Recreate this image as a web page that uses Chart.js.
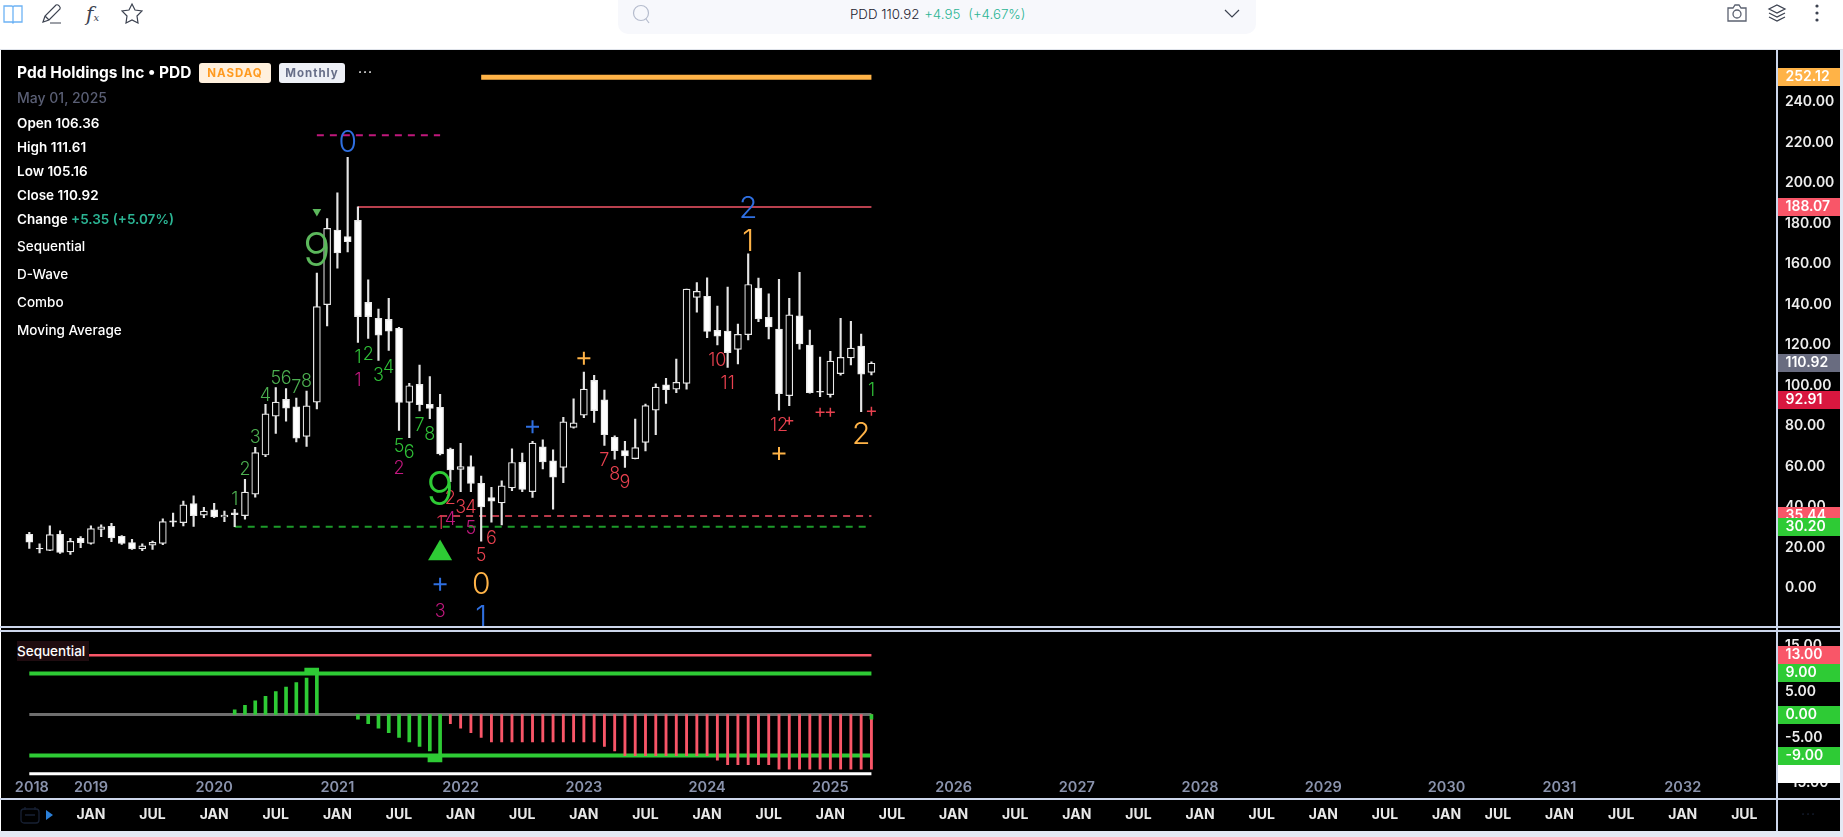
<!DOCTYPE html>
<html>
<head>
<meta charset="utf-8">
<title>PDD</title>
<script src="https://cdn.jsdelivr.net/npm/chart.js@4"></script>
<style>
html, body { margin: 0; padding: 0; background: #fff; overflow: hidden; width: 1843px; height: 837px; }
body { font-family: Inter, sans-serif; position: relative; }
.abs { position: absolute; white-space: nowrap; }
#frame { position: absolute; left: 1px; top: 50px; width: 1839px; height: 781px; background: #000; }
#rightEdge { position: absolute; left: 1840px; top: 50px; width: 3px; height: 787px; background: #e4e9f4; }
#bottomEdge { position: absolute; left: 0; top: 831px; width: 1843px; height: 6px; background: #e4e9f4; }
#topEdge { position: absolute; left: 0; top: 49px; width: 1843px; height: 1px; background: #dfe3ea; }
canvas { position: absolute; left: 1px; }
#priceChart { top: 50px; }
#seqChart { top: 631px; }
.rule { position: absolute; background: #ccd6eb; }
.info { left: 17px; color: #fff; font-size: 13.5px; font-weight: 600; line-height: 18px; }
.tool { position: absolute; font-size: 13.5px; font-weight: 500; color: #fff; left: 17px; line-height: 18px; }
.badge { top: 63px; height: 20px; line-height: 20px; border-radius: 3px; font-size: 11.5px; font-weight: 700; letter-spacing: 1px; text-align: center; }
</style>
</head>
<body>
<div id="frame"></div>
<div id="topEdge"></div>
<div id="rightEdge"></div>
<div id="bottomEdge"></div>
<canvas id="priceChart" width="1839" height="576"></canvas>
<canvas id="seqChart" width="1839" height="200"></canvas>
<div class="rule" style="left:0;top:626px;width:1840px;height:1.5px"></div>
<div class="rule" style="left:0;top:630px;width:1840px;height:1.5px"></div>
<div class="rule" style="left:0;top:798px;width:1840px;height:1.5px"></div>
<div class="rule" style="left:1776px;top:50px;width:1.5px;height:781px"></div>

<!-- top toolbar -->
<svg class="abs" style="left:2px;top:3px" width="22" height="22" viewBox="0 0 22 22" fill="none" stroke="#6db3f5" stroke-width="1.3"><path d="M2 3h8l1 1 1-1h8v16h-8l-1 1-1-1H2zM11 4v15"/></svg>
<svg class="abs" style="left:41px;top:3px" width="23" height="21" viewBox="0 0 23 21" fill="none" stroke="#3c4250" stroke-width="1.2"><path d="M2 19l2-6L15 2c2-1 5 2 4 4L8 17zM4 13l4 4M9 20h11"/></svg>
<div class="abs" style="left:86px;top:2px;font:italic 300 20px 'DejaVu Serif',serif;color:#3c4250">f<span style="font-size:10px">x</span></div>
<svg class="abs" style="left:121px;top:2px" width="22" height="22" viewBox="0 0 22 22" fill="none" stroke="#3c4250" stroke-width="1.2"><path d="M11 2l3 6 7 1-5 5 1 7-6-3-6 3 1-7-5-5 7-1z"/></svg>
<div class="abs" style="left:618px;top:0;width:638px;height:34px;background:#f7f8fc;border-radius:0 0 10px 10px"></div>
<svg class="abs" style="left:632px;top:3px" width="20" height="22" viewBox="0 0 20 22" fill="none" stroke="#b5bccd" stroke-width="1.2"><circle cx="9" cy="10" r="7.5"/><path d="M14 16l3 4"/></svg>
<div class="abs" style="left:850px;top:6px;font-size:13.3px;font-weight:300;line-height:16px;color:#1d2230">PDD 110.92 <span style="color:#2bb594;margin-left:1px">+4.95</span><span style="color:#2bb594;margin-left:8px">(+4.67%)</span></div>
<svg class="abs" style="left:1224px;top:9px" width="16" height="10" viewBox="0 0 16 10" fill="none" stroke="#3c4250" stroke-width="1.2"><path d="M1 1l7 7 7-7"/></svg>
<svg class="abs" style="left:1726px;top:4px" width="22" height="18" viewBox="0 0 22 18" fill="none" stroke="#5b6170" stroke-width="1.3"><path d="M2 4h5l2-3h4l2 3h5v13H2z"/><circle cx="11" cy="10" r="4"/></svg>
<svg class="abs" style="left:1767px;top:3px" width="20" height="20" viewBox="0 0 20 20" fill="none" stroke="#3c4250" stroke-width="1.2"><path d="M10 2l8 4-8 4-8-4zM2 10l8 4 8-4M2 14l8 4 8-4"/></svg>
<svg class="abs" style="left:1814px;top:3px" width="6" height="20" viewBox="0 0 6 20" fill="#3c4250"><circle cx="3" cy="3" r="1.6"/><circle cx="3" cy="10" r="1.6"/><circle cx="3" cy="17" r="1.6"/></svg>

<!-- legend text over the price panel -->
<div class="abs" style="left:17px;top:63px;color:#fff;font-size:15.5px;font-weight:700;line-height:20px">Pdd Holdings Inc • PDD</div>
<div class="abs badge" style="left:199px;width:72px;background:#fff0dd;color:#ff9a1f">NASDAQ</div>
<div class="abs badge" style="left:279px;width:66px;background:#eef0f6;color:#676e88">Monthly</div>
<div class="abs" style="left:358px;top:63px;color:#fff;font-size:14px;line-height:18px;letter-spacing:1px">···</div>
<div class="abs info" style="top:89px;color:#5a5f75;font-weight:500;font-size:14px">May 01, 2025</div>
<div class="abs info" style="top:114px">Open 106.36</div>
<div class="abs info" style="top:138px">High 111.61</div>
<div class="abs info" style="top:162px">Low 105.16</div>
<div class="abs info" style="top:186px">Close 110.92</div>
<div class="abs info" style="top:210px">Change <span style="color:#2bb594">+5.35 (+5.07%)</span></div>
<div class="tool abs" style="top:237px">Sequential</div>
<div class="tool abs" style="top:265px">D-Wave</div>
<div class="tool abs" style="top:293px">Combo</div>
<div class="tool abs" style="top:321px">Moving Average</div>
<div class="tool abs" style="top:641px;left:17px;padding:1px 4px 1px 0;background:#1f0c10;font-size:13.5px">Sequential</div>

<svg class="abs" style="left:20px;top:806px" width="20" height="18" viewBox="0 0 20 18" fill="none" stroke="#172033" stroke-width="1.3"><rect x="1" y="3" width="18" height="14" rx="3"/><path d="M5 1v3M15 1v3M5 9h10"/></svg>
<svg class="abs" style="left:46px;top:810px" width="7" height="10" viewBox="0 0 7 10" fill="#2a7fd8"><path d="M0 0l7 5-7 5z"/></svg>
<div class="abs" style="left:1801px;top:805px;color:#172033;font-size:14px;letter-spacing:1px">···</div>

<script>
// months since Jul 2018, one candle per month
var opens = [26.4, 19.5, 18.5, 26.4, 17.8, 24.5, 22.0, 28.9, 30.4, 25.5, 22.3, 19.2, 21.1, 22.0, 33.1, 32.2, 41.6, 35.9, 38.5, 35.0, 37.1, 35.7, 46.3, 65.6, 84.8, 93.1, 89.4, 74.8, 91.7, 139.9, 176.7, 173.5, 181.5, 141.0, 133.1, 132.6, 128.1, 91.6, 100.5, 90.6, 89.1, 68.5, 58.5, 59.9, 51.6, 44.6, 42.0, 49.4, 62.0, 47.5, 69.6, 62.7, 59.5, 79.2, 85.3, 102.5, 92.8, 74.3, 67.8, 63.8, 71.8, 87.8, 100.2, 98.1, 101.0, 143.4, 144.0, 127.2, 126.8, 117.8, 125.0, 148.0, 133.6, 127.8, 94.9, 134.3, 119.9, 97.1, 95.4, 105.8, 113.6, 119.4, 106.36];
var highs = [27.4, 21.7, 30.6, 28.1, 24.5, 25.3, 30.6, 31.1, 31.9, 25.8, 24.0, 21.7, 23.1, 34.1, 36.9, 42.8, 45.4, 39.7, 41.7, 37.9, 38.8, 53.6, 69.4, 90.6, 98.9, 98.4, 93.7, 97.2, 155.4, 182.4, 195.1, 212.6, 188.1, 152.1, 137.7, 143.0, 128.6, 101.0, 110.0, 104.3, 95.6, 69.0, 71.4, 65.2, 55.2, 49.6, 52.8, 68.6, 66.5, 72.3, 73.1, 68.1, 84.2, 93.3, 106.5, 105.0, 97.7, 75.1, 72.3, 83.3, 90.8, 100.7, 103.5, 113.0, 147.5, 150.8, 153.1, 139.2, 148.5, 130.3, 165.0, 153.0, 145.2, 152.3, 143.0, 155.8, 127.3, 114.0, 116.8, 133.1, 131.6, 125.3, 111.61];
var lows = [19.5, 17.3, 18.3, 17.0, 16.5, 19.8, 21.6, 25.3, 22.8, 21.5, 19.0, 18.3, 19.0, 21.3, 30.3, 30.6, 30.3, 34.7, 34.7, 32.7, 30.2, 33.9, 44.8, 64.8, 76.2, 82.3, 72.1, 69.8, 88.4, 129.3, 157.9, 165.9, 121.2, 123.2, 112.3, 117.2, 77.7, 74.2, 87.4, 83.6, 65.6, 52.4, 47.5, 47.5, 23.0, 32.4, 31.1, 48.0, 47.5, 44.6, 58.7, 38.9, 51.9, 78.9, 84.0, 81.7, 70.3, 63.5, 59.5, 63.7, 67.6, 75.6, 91.1, 96.4, 98.1, 136.1, 123.5, 120.0, 108.8, 110.6, 122.4, 131.5, 122.9, 87.8, 90.0, 117.9, 96.1, 94.4, 94.1, 105.0, 110.1, 87.0, 105.16];
var closes = [22.5, 19.2, 26.3, 17.5, 23.0, 22.3, 29.3, 30.1, 24.6, 22.0, 19.2, 20.7, 22.5, 32.7, 32.4, 41.0, 35.7, 37.9, 35.0, 35.9, 36.1, 47.3, 66.8, 85.9, 91.7, 88.7, 73.9, 89.9, 138.9, 177.5, 165.4, 170.9, 133.9, 133.9, 124.8, 126.8, 91.6, 99.8, 90.4, 88.6, 66.1, 58.2, 59.9, 51.6, 40.0, 42.8, 50.4, 61.9, 48.6, 71.5, 62.2, 54.7, 82.0, 81.5, 98.1, 87.5, 75.6, 67.8, 65.2, 69.3, 90.0, 99.1, 97.9, 101.5, 147.5, 146.4, 126.6, 124.3, 116.1, 125.2, 149.8, 132.8, 128.8, 95.9, 134.8, 120.5, 96.4, 96.6, 112.0, 113.8, 118.4, 105.57, 110.92];

var priceTicks = [0, 20, 40, 60, 80, 100, 120, 140, 160, 180, 200, 220, 240];
var seqTicks = [-15, -10, -5, 0, 5, 10, 15];

var monthTicks = [6, 12, 18, 24, 30, 36, 42, 48, 54, 60, 66, 72, 78, 84, 90, 96, 102, 108, 114, 120, 126, 132, 138, 143, 149, 155, 161, 167];
var monthLabels = ["JAN", "JUL", "JAN", "JUL", "JAN", "JUL", "JAN", "JUL", "JAN", "JUL", "JAN", "JUL", "JAN", "JUL", "JAN", "JUL", "JAN", "JUL", "JAN", "JUL", "JAN", "JUL", "JAN", "JUL", "JAN", "JUL", "JAN", "JUL"];
var yearTicks = [0.25, 6, 18, 30, 42, 54, 66, 78, 90, 102, 114, 126, 138, 149, 161];
var yearLabels = ["2018", "2019", "2020", "2021", "2022", "2023", "2024", "2025", "2026", "2027", "2028", "2029", "2030", "2031", "2032"];

// sequential study, one value per candle
var seqGreen = [null, null, null, null, null, null, null, null, null, null, null, null, null, null, null, null, null, null, null, null, 1, 2, 3, 4, 5, 6, 7, 8, 9, null, null, null, -1, -2, -3, -4, -5, -6, -7, -8, -9, null, null, null, null, null, null, null, null, null, null, null, null, null, null, null, null, null, null, null, null, null, null, null, null, null, null, null, null, null, null, null, null, null, null, null, null, null, null, null, null, null, -1];
var seqRed = [null, null, null, null, null, null, null, null, null, null, null, null, null, null, null, null, null, null, null, null, null, null, null, null, null, null, null, null, null, null, null, null, null, null, null, null, null, null, null, null, null, -2, -3, -4, -5, -6, -6, -6, -6, -6, -6, -6, -6, -6, -6, -6, -7, -8, -9, -9, -9, -9, -9, -9, -9, -9, -9, -10, -11, -11, -11, -11, -11, -12, -12, -12, -12, -12, -12, -12, -12, -12, -12];
var seqLevels = [13, 9, 0, -9, -13];
var seqLevelColors = ["#f95668", "#2ecb35", "#6e6e6e", "#2ecb35", "#ffffff"];
var seqLevelWidths = [2.5, 4, 3, 4, 3];
var seqCapX = [27.5, 39.5];
var seqCapY = [[8.8, 10.2], [-10.4, -9]];

// horizontal levels on the price panel
var levelFrom = [44, 32, 20, 40, 28];
var levelTo = [82, 82, 82, 82, 40];
var levelPrice = [252.12, 188.07, 30.2, 35.44, 223.5];
var levelColors = ["#ffb347", "#b8404e", "#1d9a2a", "#b93a4a", "#c0187c"];

// count digits on the chart
var markIdx = [20, 21, 22, 23, 24, 25, 26, 27, 32, 33, 34, 35, 36, 37, 38, 39, 32, 36, 41, 42, 43, 40, 41, 43, 45, 44, 40, 56, 57, 58, 67, 68, 73, 82, 31, 28, 40, 44, 44, 70, 70, 81];
var markPrice = [44.2, 59, 75.1, 95.7, 104.3, 104.3, 99.7, 102.6, 114.5, 115.8, 105.5, 109.7, 70.5, 67.6, 80.8, 76.6, 103.1, 59.8, 45, 40.6, 40.6, 32.7, 34.3, 29.9, 25.3, 16.6, -10.9, 63.5, 56.6, 52.8, 113.2, 101.8, 80.9, 98.2, 221.2, 167.9, 50, 2.7, -13.4, 188.6, 172.3, 76.8];
var markText = ["1", "2", "3", "4", "5", "6", "7", "8", "1", "2", "3", "4", "5", "6", "7", "8", "1", "2", "2", "3", "4", "1", "4", "5", "6", "5", "3", "7", "8", "9", "10", "11", "12", "1", "0", "9", "9", "0", "1", "2", "1", "2"];
var markColor = ["#4caf50", "#4caf50", "#4caf50", "#4caf50", "#4caf50", "#4caf50", "#4caf50", "#4caf50", "#2fbf37", "#2fbf37", "#2fbf37", "#2fbf37", "#2fbf37", "#2fbf37", "#2fbf37", "#2fbf37", "#c2187f", "#c2187f", "#e8414f", "#e8414f", "#e8414f", "#d8304f", "#c2187f", "#c2187f", "#e8414f", "#e8414f", "#c2187f", "#e8414f", "#e8414f", "#e8414f", "#e8414f", "#e8414f", "#e8414f", "#2fbf37", "#2f6fe0", "#5cb85c", "#2ecb35", "#ffb347", "#2f6fe0", "#2f6fe0", "#ffb347", "#ffb347"];
var markSize = [18, 18, 18, 18, 18, 18, 18, 18, 18, 18, 18, 18, 18, 18, 18, 18, 18, 18, 18, 18, 18, 18, 18, 18, 18, 18, 18, 18, 18, 18, 18, 18, 18, 18, 30, 46, 46, 30, 30, 30, 30, 30];

// plus signs and triangles
var plusIdx = [40, 49, 54, 73, 74, 77, 78, 82];
var plusPrice = [1.8, 79.6, 113.4, 66.4, 82.5, 86.7, 86.7, 87.2];
var plusColor = ["#2f6fe0", "#2f6fe0", "#ffb347", "#ffb347", "#e8414f", "#e8414f", "#e8414f", "#e8414f"];
var plusSize = [6.5, 6.5, 6.5, 6.5, 4, 4.5, 4.5, 4.5];

// price tags on the right axis
var priceTagValue = [252.12, 188.07, 110.92, 92.91, 35.44, 30.2];
var priceTagColor = ["#ffb347", "#f95668", "#696c80", "#d8173f", "#f95668", "#2ecb35"];
var seqTagValue = [13, 9, 0, -9, -13];
var seqTagColor = ["#f95668", "#2ecb35", "#2ecb35", "#2ecb35", "#ffffff"];

var FONT = "Inter, sans-serif";
var xMin = -2.756, xMax = 170.13;
var axisW = 63.5;

var months = closes.map(function (c, i) { return i; });

function tagPlugin(id, values, colors, fmt) {
    return {
        id: id,
        afterDraw: function (chart) {
            var ctx = chart.ctx, s = chart.scales.y;
            ctx.save();
            ctx.textBaseline = "middle";
            ctx.font = "600 14px " + FONT;
            values.forEach(function (v, i) {
                var y = Math.round(s.getPixelForValue(v));
                ctx.fillStyle = colors[i];
                ctx.fillRect(chart.chartArea.right + 1, y - 9, axisW - 1, 18);
                ctx.fillStyle = "#fff";
                ctx.fillText(fmt(v), chart.chartArea.right + 9, y);
            });
            ctx.restore();
        }
    };
}

var markPlugin = {
    id: "marks",
    afterDatasetsDraw: function (chart) {
        var ctx = chart.ctx;
        ctx.save();
        ctx.textAlign = "center";
        ctx.textBaseline = "middle";
        markIdx.forEach(function (m, i) {
            ctx.font = "300 " + markSize[i] + "px " + FONT;
            ctx.fillStyle = markColor[i];
            // digits sit a little above the em box middle
            ctx.fillText(markText[i], chart.scales.x.getPixelForValue(m), chart.scales.y.getPixelForValue(markPrice[i]) + markSize[i] * 0.09);
        });
        ctx.restore();
    }
};

function levelSet(i) {
    return {
        type: "line",
        order: 5,
        data: [{ x: levelFrom[i], y: levelPrice[i] }, { x: levelTo[i], y: levelPrice[i] }],
        borderColor: levelColors[i],
        borderWidth: i === 0 ? 5 : 2,
        borderDash: i >= 2 ? [7, 6] : [],
        pointRadius: 0
    };
}

var priceSets = [
    {
        // candle bodies
        order: 1,
        data: months.map(function (m) { return { x: m, y: [opens[m], closes[m]] }; }),
        backgroundColor: months.map(function (m) { return closes[m] > opens[m] ? "#000" : "#fff"; }),
        borderColor: "#e8e8e8",
        borderWidth: 1.2,
        borderSkipped: false,
        barThickness: 7
    },
    {
        // wicks
        order: 2,
        data: months.map(function (m) { return { x: m, y: [lows[m], highs[m]] }; }),
        backgroundColor: "#e4e4e4",
        barThickness: 1.5
    },
    levelSet(0), levelSet(1), levelSet(2), levelSet(3), levelSet(4),
    {
        // short drop from the wick on to the red level
        type: "line",
        order: 5,
        data: [{ x: 32, y: 188.07 }, { x: 32, y: 183 }],
        borderColor: "#b8404e",
        borderWidth: 1.5,
        pointRadius: 0
    },
    {
        type: "scatter",
        order: 0,
        data: plusIdx.map(function (m, i) { return { x: m, y: plusPrice[i] }; }),
        pointStyle: "cross",
        pointRadius: plusSize,
        pointBorderColor: plusColor,
        pointBorderWidth: plusSize.map(function (r) { return r > 5 ? 2 : 1.5; })
    },
    {
        type: "scatter",
        order: 0,
        data: [{ x: 40, y: 17 }, { x: 28, y: 185.9 }],
        pointStyle: "triangle",
        pointRadius: [13.9, 5],
        pointRotation: [0, 180],
        pointBackgroundColor: ["#2ecb35", "#5cb85c"],
        pointBorderWidth: 0
    }
];

function seqLine(i) {
    return {
        type: "line",
        order: 5,
        data: [{ x: 0, y: seqLevels[i] }, { x: 82, y: seqLevels[i] }],
        borderColor: seqLevelColors[i],
        borderWidth: seqLevelWidths[i],
        pointRadius: 0
    };
}

var seqSets = [
    {
        order: 0,
        data: seqCapX.map(function (x, i) { return { x: x, y: seqCapY[i] }; }),
        backgroundColor: "#2ecb35",
        barThickness: 14
    },
    {
        order: 1,
        data: months.map(function (m) { return { x: m, y: seqGreen[m] }; }),
        backgroundColor: "#2ecb35",
        barThickness: 3
    },
    {
        order: 2,
        data: months.map(function (m) { return { x: m, y: seqRed[m] }; }),
        backgroundColor: "#f95668",
        barThickness: 2.2
    },
    seqLine(0), seqLine(1), seqLine(2), seqLine(3), seqLine(4)
];

function yAxis(min, max, ticks) {
    return {
        position: "right",
        min: min,
        max: max,
        bounds: "data",
        offset: false,
        grid: { display: false, drawTicks: false },
        border: { display: false },
        afterFit: function (s) {
            s.width = axisW;
            // keep the plot the full panel height, labels never reach the ends
            s.paddingTop = 0;
            s.paddingBottom = 0;
        },
        afterBuildTicks: function (s) { s.ticks = ticks.map(function (v) { return { value: v }; }); },
        ticks: {
            padding: 8.5,
            autoSkip: false,
            color: "#eeeeee",
            font: { family: FONT, size: 14, weight: 600 },
            callback: function (v) { return v.toFixed(2); }
        }
    };
}

function baseOptions() {
    return {
        responsive: false,
        animation: false,
        events: [],
        layout: { padding: 0, autoPadding: false },
        datasets: { bar: { grouped: false } },
        plugins: { legend: { display: false }, tooltip: { enabled: false } }
    };
}

var priceOptions = baseOptions();
priceOptions.scales = {
    x: { type: "linear", min: xMin, max: xMax, bounds: "data", offset: false, display: false, grid: { display: false } },
    y: yAxis(-18.84, 265.6, priceTicks)
};

var priceChart = new Chart(document.getElementById("priceChart").getContext("2d"), {
    type: "bar",
    data: { datasets: priceSets },
    options: priceOptions,
    plugins: [markPlugin, tagPlugin("priceTags", priceTagValue, priceTagColor, function (v) { return v.toFixed(2); })]
});

var seqOptions = baseOptions();
seqOptions.scales = {
    x: {
        type: "linear",
        min: xMin,
        max: xMax,
        bounds: "data",
        offset: false,
        position: "bottom",
        grid: { display: false, drawTicks: false },
        border: { display: false },
        afterFit: function (s) { s.height = 33; },
        afterBuildTicks: function (s) { s.ticks = monthTicks.map(function (v) { return { value: v }; }); },
        ticks: {
            autoSkip: false,
            maxRotation: 0,
            padding: 8,
            color: "#e8e8e8",
            font: { family: FONT, size: 14, weight: 700 },
            callback: function (v, i) { return monthLabels[i]; }
        }
    },
    years: {
        type: "linear",
        axis: "x",
        min: xMin,
        max: xMax,
        bounds: "data",
        offset: false,
        position: { y: -13.8 },
        grid: { display: false, drawTicks: false },
        border: { display: false },
        afterBuildTicks: function (s) { s.ticks = yearTicks.map(function (v) { return { value: v }; }); },
        ticks: {
            autoSkip: false,
            maxRotation: 0,
            padding: 1,
            color: "#8a93ad",
            font: { family: FONT, size: 14.5, weight: 600 },
            callback: function (v, i) { return yearLabels[i]; }
        }
    },
    y: yAxis(-18.3, 18.3, seqTicks)
};

var seqChart = new Chart(document.getElementById("seqChart").getContext("2d"), {
    type: "bar",
    data: { datasets: seqSets },
    options: seqOptions,
    plugins: [tagPlugin("seqTags", seqTagValue, seqTagColor, function (v) { return v.toFixed(2); })]
});
</script>
</body>
</html>
